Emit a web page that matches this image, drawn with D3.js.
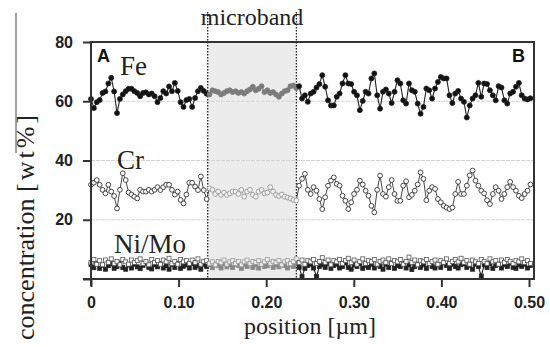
<!DOCTYPE html>
<html><head><meta charset="utf-8">
<script src="https://cdn.jsdelivr.net/npm/d3@7"></script>
<style>body{margin:0;background:#fff}svg{display:block}</style>
</head><body>
<svg id="c" width="550" height="347"></svg>
<script>
// ---------------- data ----------------
const step = 0.0033;                 // sampling step along the line scan [µm]
const xDomain = [0, 0.5057];
const yDomain = [0, 80];
const xTicks = [0, 0.10, 0.20, 0.30, 0.40, 0.50];
const xTickLabels = ["0", "0.10", "0.20", "0.30", "0.40", "0.50"];
const yTicks = [0, 20, 40, 60, 80];
const yTickLabels = ["", "20", "40", "60", "80"];
const gridValues = [20, 40, 60];
const microband = [0.1332, 0.2345];

const feValues = [
  // left of microband
  60.8, 57.7, 59.7, 60.4, 62.8, 63.3, 66.0, 67.9, 63.3, 56.0, 60.8, 62.3, 63.4, 64.2, 64.2, 63.4, 62.8, 61.7, 62.8, 63.0,
  62.3, 62.6, 61.7, 59.7, 61.1, 63.4, 62.6, 65.0, 63.4, 66.2, 63.5, 59.7, 58.1, 60.4, 60.8, 58.1, 61.1, 63.4, 64.5, 63.5, 62.5,
  // microband
  62.3, 63.7, 63.4, 63.1, 62.3, 62.8, 63.4, 63.7, 63.1, 63.4, 62.8, 63.1, 62.6, 63.4, 64.0, 64.9, 63.7, 64.2, 65.1, 63.1,
  63.7, 62.8, 63.1, 62.3, 61.5, 62.6, 63.4, 63.7, 65.1, 65.3, 64.5,
  // right of microband
  65.1, 60.9, 62.0, 59.8, 62.6, 63.2, 64.6, 65.8, 68.8, 64.9, 60.3, 58.6, 58.6, 61.5, 62.6, 66.0, 68.8, 66.0, 65.8, 63.2,
  62.0, 57.0, 60.1, 63.2, 62.6, 67.7, 69.4, 62.0, 57.5,
  63.2, 64.0, 62.6, 59.4, 63.2, 67.1, 66.0, 60.3, 59.2, 66.0, 63.7, 63.2, 59.2, 55.8, 58.1, 64.3, 63.7, 60.9, 64.3, 66.5,
  68.2, 67.7, 67.7, 62.0, 59.4, 62.6, 63.5, 60.9, 59.8, 54.5, 58.6, 60.9, 62.0, 66.2, 61.5, 66.0, 65.8, 63.7, 62.0, 60.3,
  65.1, 64.6, 60.3, 59.2, 62.6, 63.2, 64.9, 66.2, 62.0, 60.9, 60.6, 61.0
];

const crValues = [
  // left
  31.8, 32.5, 33.4, 31.8, 30.1, 28.9, 31.8, 29.5, 28.0, 23.8, 30.1, 35.7, 33.4, 29.2, 28.5, 27.8, 27.2, 30.1, 29.5, 29.5,
  30.1, 29.5, 30.1, 31.0, 30.0, 31.0, 31.8, 31.8, 30.1, 28.5, 29.5, 26.7, 25.5, 28.5, 32.5, 32.5, 31.2, 30.0, 34.6, 30.0, 27.0,
  // microband
  30.6, 30.1, 28.7, 29.5, 28.4, 29.2, 28.4, 28.9, 29.5, 29.5, 28.7, 30.1, 27.8, 29.5, 30.1, 28.4, 27.8, 29.5, 30.1, 28.9,
  29.2, 31.0, 29.5, 28.4, 28.0, 28.5, 27.8, 27.5, 27.2, 26.7, 26.5,
  // right
  31.5, 33.8, 35.5, 30.1, 28.7, 31.0, 29.8, 27.0, 23.6, 27.6, 31.5, 33.2, 34.3, 32.1, 31.5, 28.1, 26.4, 23.6, 25.9, 28.7,
  30.1, 33.2, 31.9, 29.8, 28.1, 24.7, 22.5, 30.1, 34.9,
  28.7, 27.8, 31.0, 33.4, 28.7, 26.4, 26.4, 31.5, 33.0, 27.6, 28.4, 29.8, 31.9, 36.0, 33.8, 26.6, 29.8, 31.0, 30.4, 27.0,
  25.9, 24.7, 24.1, 23.6, 24.1, 28.7, 32.8, 28.7, 28.7, 31.5, 35.0, 36.6, 33.2, 31.5, 29.8, 28.9, 26.6, 25.3, 28.7, 31.0,
  29.8, 27.0, 28.7, 31.0, 32.8, 31.0, 29.8, 28.1, 27.3, 28.7, 29.8, 31.9
];

const niValues = [
  4.9, 3.8, 5.3, 3.6, 4.6, 3.3, 4.5, 5.1, 3.6, 4.2, 5.4, 3.9, 3.3, 4.7, 3.7, 5.0, 4.1,
  3.5, 4.6, 5.3, 3.9, 3.4, 4.8, 4.1, 5.2, 3.7, 4.5, 3.3, 5.0, 3.9, 5.3, 3.6, 4.3, 4.8,
  3.7, 5.2, 3.9, 4.6, 3.3, 5.0, 4.2, 4.8, 3.8, 5.0, 4.5, 3.7, 5.2, 4.1, 4.8, 3.9, 5.0,
  4.6, 3.6, 4.8, 4.2, 5.2, 3.9, 4.8, 3.7, 5.0, 4.2, 4.5, 5.3, 3.9, 4.8, 4.1, 5.0, 4.5,
  3.7, 4.8, 4.2, 5.2, 3.9, 0.8, 3.6, 4.6, 5.0, 3.7, 0.9, 4.2, 4.8, 3.9, 5.2, 3.6, 4.6,
  5.0, 3.7, 4.2, 5.4, 3.9, 3.3, 4.8, 4.2, 5.2, 3.6, 4.6, 3.9, 5.0, 3.7, 4.8, 4.2, 3.3,
  5.0, 3.9, 5.4, 3.6, 4.6, 4.2, 5.2, 3.7, 4.8, 3.2, 4.2, 5.0, 3.9, 4.8, 3.6, 5.2, 4.2,
  3.7, 4.8, 3.9, 5.4, 4.6, 3.6, 5.0, 4.2, 3.7, 4.8, 5.2, 3.9, 4.6, 3.3, 5.0, 4.2, 1.0,
  4.8, 3.9, 5.2, 3.6, 4.6, 5.0, 3.7, 4.8, 4.2, 5.4, 3.9, 3.6, 4.8, 4.2, 5.0, 3.7, 4.6
];

const moValues = [
  5.6, 6.6, 5.0, 6.2, 4.8, 6.4, 5.6, 6.8, 5.2, 5.9, 4.8, 6.6, 5.8, 5.0, 6.4, 5.6, 6.2,
  6.8, 5.2, 5.9, 4.8, 6.6, 5.6, 6.2, 5.0, 6.4, 5.8, 7.0, 5.2, 5.9, 5.0, 6.6, 5.8, 6.2,
  5.2, 6.4, 5.6, 6.8, 5.0, 5.9, 6.2, 5.2, 5.8, 4.8, 5.9, 5.6, 6.4, 5.0, 5.8, 6.2, 5.2,
  5.9, 4.8, 5.8, 6.4, 5.2, 5.9, 5.6, 6.2, 5.0, 5.8, 6.6, 5.2, 5.9, 5.6, 6.2, 4.8, 5.8,
  6.2, 5.2, 5.9, 6.8, 5.6, 6.4, 5.0, 6.2, 5.8, 6.6, 5.2, 5.9, 7.2, 5.6, 6.4, 4.8, 6.2,
  5.8, 6.6, 5.2, 6.2, 7.0, 5.6, 6.4, 5.0, 5.9, 6.8, 5.2, 6.2, 5.8, 6.6, 5.0, 5.9, 6.4,
  5.6, 6.8, 5.2, 6.2, 5.8, 6.6, 5.0, 5.9, 7.4, 5.6, 6.4, 4.8, 6.2, 5.8, 6.6, 5.2, 5.9,
  6.4, 5.0, 6.2, 5.6, 6.8, 5.2, 5.9, 6.6, 5.8, 7.0, 5.6, 6.2, 5.0, 6.4, 5.8, 5.2, 6.6,
  5.9, 5.2, 6.8, 5.8, 6.2, 5.0, 6.4, 5.6, 6.6, 5.9, 5.2, 6.2, 5.8, 6.8, 5.6, 6.2, 5.2
];

// ---------------- drawing ----------------
const svg = d3.select("#c");
const x = d3.scaleLinear().domain(xDomain).range([91, 534]);
const y = d3.scaleLinear().domain(yDomain).range([279, 42]);
const serif = "'Liberation Serif','Times New Roman',serif";
const sans = "'Liberation Sans',Arial,sans-serif";
const inBand = v => v >= microband[0] && v <= microband[1];

// microband shading
svg.append("rect")
  .attr("x", x(microband[0])).attr("y", y(80))
  .attr("width", x(microband[1]) - x(microband[0]))
  .attr("height", y(0) - y(80))
  .attr("fill", "#ececec");

// grid lines
svg.selectAll("line.grid").data(gridValues).join("line")
  .attr("class", "grid")
  .attr("x1", x(0)).attr("x2", x(xDomain[1]))
  .attr("y1", d => y(d)).attr("y2", d => y(d))
  .attr("stroke", "#d4d4d4").attr("stroke-width", 1)
  .attr("stroke-dasharray", "4,1");

// microband boundaries
svg.selectAll("line.mb").data(microband).join("line")
  .attr("class", "mb")
  .attr("x1", d => x(d)).attr("x2", d => x(d))
  .attr("y1", 12).attr("y2", y(0))
  .attr("stroke", "#222").attr("stroke-width", 1.3)
  .attr("stroke-dasharray", "1.5,1.5");

svg.append("text").text("microband")
  .attr("x", (x(microband[0]) + x(microband[1])) / 2).attr("y", 25)
  .attr("text-anchor", "middle")
  .attr("font-family", serif).attr("font-size", 24).attr("fill", "#222");

// series drawing
function drawSeries(values, opts) {
  const pts = values.map((v, i) => ({ xv: i * step, yv: v }));
  const g = svg.append("g");
  const line = d3.line().x(d => x(d.xv)).y(d => y(d.yv));
  const segs = d3.pairs(pts);
  g.selectAll("path").data(segs).join("path")
    .attr("d", d => line(d))
    .attr("fill", "none")
    .attr("stroke", d => (inBand(d[0].xv) && inBand(d[1].xv)) ? opts.bandLine : opts.line)
    .attr("stroke-width", opts.lw);
  if (opts.shape === "circle") {
    g.selectAll("circle").data(pts).join("circle")
      .attr("cx", d => x(d.xv)).attr("cy", d => y(d.yv)).attr("r", opts.r)
      .attr("fill", d => inBand(d.xv) ? opts.bandFill : opts.fill)
      .attr("stroke", d => inBand(d.xv) ? opts.bandLine : opts.line)
      .attr("stroke-width", opts.sw);
  } else {
    const s = opts.r;
    g.selectAll("rect").data(pts).join("rect")
      .attr("x", d => x(d.xv) - s).attr("y", d => y(d.yv) - s)
      .attr("width", 2 * s).attr("height", 2 * s)
      .attr("fill", d => inBand(d.xv) ? opts.bandFill : opts.fill)
      .attr("stroke", d => inBand(d.xv) ? opts.bandLine : opts.line)
      .attr("stroke-width", opts.sw);
  }
}

drawSeries(niValues, { shape: "rect", r: 2, fill: "#222", bandFill: "#888", line: "#222", bandLine: "#888", lw: 1.1, sw: 0.8 });
drawSeries(moValues, { shape: "rect", r: 2, fill: "#fff", bandFill: "#eee", line: "#555", bandLine: "#999", lw: 0.8, sw: 0.8 });
drawSeries(crValues, { shape: "circle", r: 2.4, fill: "#fff", bandFill: "#f2f2f2", line: "#333", bandLine: "#999", lw: 0.9, sw: 0.9 });
drawSeries(feValues, { shape: "circle", r: 2.5, fill: "#111", bandFill: "#7c7c7c", line: "#222", bandLine: "#7c7c7c", lw: 1.1, sw: 0.8 });

// frame (top and right)
svg.append("line").attr("x1", x(0)).attr("x2", x(xDomain[1])).attr("y1", y(80)).attr("y2", y(80))
  .attr("stroke", "#333").attr("stroke-width", 2);
svg.append("line").attr("x1", x(xDomain[1])).attr("x2", x(xDomain[1])).attr("y1", y(80) - 1).attr("y2", y(0))
  .attr("stroke", "#333").attr("stroke-width", 2);

// axes
const yAxis = d3.axisLeft(y).tickValues(yTicks).tickSize(8).tickPadding(10)
  .tickFormat((d, i) => yTickLabels[i]);
const gy = svg.append("g").attr("transform", `translate(${x(0)},0)`).call(yAxis);
gy.select(".domain").remove();
gy.selectAll(".tick line").attr("stroke", "#333").attr("stroke-width", 2);
gy.selectAll(".tick text").attr("font-family", sans).attr("font-weight", "bold")
  .attr("font-size", 16).attr("fill", "#222");

const xAxis = d3.axisBottom(x).tickValues(xTicks).tickSize(8).tickPadding(10)
  .tickFormat((d, i) => xTickLabels[i]);
const gx = svg.append("g").attr("transform", `translate(0,${y(0)})`).call(xAxis);
gx.select(".domain").remove();
gx.selectAll(".tick line").attr("stroke", "#333").attr("stroke-width", 2);
gx.selectAll(".tick text").attr("font-family", sans).attr("font-weight", "bold")
  .attr("font-size", 16).attr("fill", "#222");

// axis lines
svg.append("line").attr("x1", x(0)).attr("x2", x(0)).attr("y1", y(80) - 1).attr("y2", y(0) + 7)
  .attr("stroke", "#333").attr("stroke-width", 2);
svg.append("line").attr("x1", x(0) - 8).attr("x2", x(xDomain[1]) + 1).attr("y1", y(0)).attr("y2", y(0))
  .attr("stroke", "#333").attr("stroke-width", 2);

// panel letters
svg.append("text").text("A").attr("x", 97).attr("y", 62)
  .attr("font-family", sans).attr("font-weight", "bold").attr("font-size", 18).attr("fill", "#111");
svg.append("text").text("B").attr("x", 512).attr("y", 62)
  .attr("font-family", sans).attr("font-weight", "bold").attr("font-size", 18).attr("fill", "#111");

// element labels
const labels = [["Fe", 120, 75], ["Cr", 117, 169], ["Ni/Mo", 114, 253]];
labels.forEach(([t, lx, ly]) => {
  svg.append("text").text(t).attr("x", lx).attr("y", ly)
    .attr("font-family", serif).attr("font-size", 27).attr("fill", "#222");
});

// axis titles
svg.append("text").text("position [µm]")
  .attr("x", 310).attr("y", 334).attr("text-anchor", "middle")
  .attr("font-family", serif).attr("font-size", 24).attr("fill", "#222");

const yt = svg.append("text")
  .attr("transform", "translate(34,226) rotate(-90)")
  .attr("text-anchor", "middle")
  .attr("font-family", serif).attr("font-size", 26).attr("fill", "#222");
yt.append("tspan").text("concentration ");
yt.append("tspan").text("[wt%]").attr("letter-spacing", 3);

svg.append("line").attr("x1", 16).attr("x2", 16).attr("y1", 13).attr("y2", 153)
  .attr("stroke", "#444").attr("stroke-width", 1);
</script>
</body></html>
